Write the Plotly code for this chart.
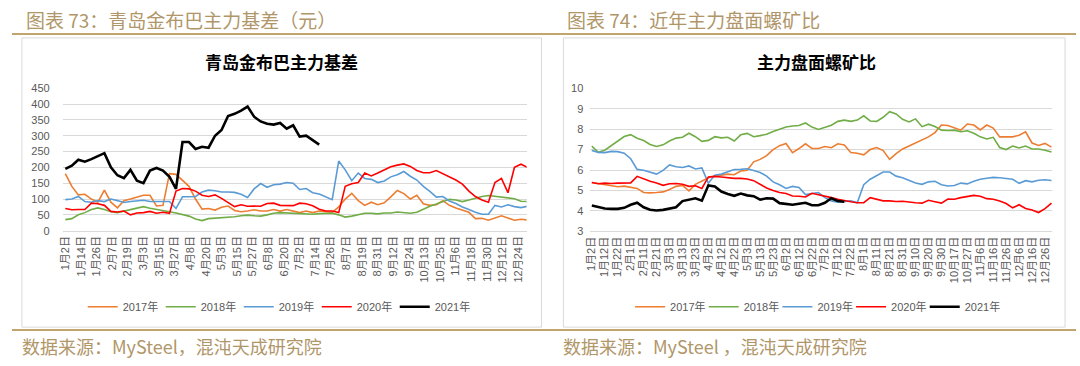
import plotly.graph_objects as go

# ---------------- data ----------------
STEP = 5  # samples every 5 trading-day categories

LEFT_TICKS = ["1月2日", "1月14日", "1月26日", "2月7日", "2月19日", "3月3日", "3月15日", "3月27日",
              "4月8日", "4月20日", "5月3日", "5月15日", "5月27日", "6月8日", "6月20日", "7月2日",
              "7月14日", "7月26日", "8月7日", "8月19日", "8月31日", "9月12日", "9月24日", "10月13日",
              "10月25日", "11月6日", "11月18日", "11月30日", "12月12日", "12月24日"]
RIGHT_TICKS = ["1月2日", "1月12日", "1月22日", "2月1日", "2月11日", "2月21日", "3月3日", "3月13日",
               "3月23日", "4月2日", "4月12日", "4月22日", "5月3日", "5月13日", "5月23日", "6月2日",
               "6月12日", "6月22日", "7月2日", "7月12日", "7月22日", "8月1日", "8月11日", "8月21日",
               "8月31日", "9月10日", "9月20日", "9月30日", "10月17日", "10月27日", "11月6日", "11月16日",
               "11月26日", "12月6日", "12月16日", "12月26日"]

YEARS = ["2017年", "2018年", "2019年", "2020年", "2021年"]
COLORS = ["#ED7D31", "#70AD47", "#5B9BD5", "#FF0000", "#000000"]

# 青岛金布巴主力基差 (元)
basis_2017 = [180, 140, 113, 115, 100, 90, 128, 90, 72, 95, 100, 105, 112, 112, 78, 80, 180, 178, 160, 140,
              100, 68, 70, 65, 74, 78, 64, 60, 62, 66, 62, 62, 67, 62, 67, 62, 57, 62, 57, 62,
              60, 58, 75, 100, 118, 95, 80, 90, 82, 88, 107, 127, 117, 100, 112, 85, 80, 82, 95, 80,
              72, 65, 58, 38, 39, 33, 40, 47, 40, 33, 36, 34]
basis_2018 = [35, 38, 50, 57, 67, 72, 67, 60, 57, 62, 67, 72, 76, 71, 68, 65, 60, 56, 51, 46,
              37, 32, 38, 39, 41, 42, 44, 47, 49, 47, 46, 50, 55, 57, 56, 55, 55, 54, 52, 54,
              55, 55, 50, 43, 46, 51, 55, 55, 53, 56, 56, 59, 57, 55, 58, 68, 77, 84, 91, 99,
              97, 92, 97, 103, 108, 111, 108, 106, 104, 101, 93, 92]
basis_2019 = [98, 100, 108, 92, 90, 95, 92, 100, 95, 89, 92, 95, 96, 92, 92, 92, 92, 70, 107, 107,
              108, 122, 128, 126, 122, 122, 121, 115, 105, 132, 149, 137, 145, 147, 152, 150, 130, 133, 120, 116,
              107, 98, 220, 192, 158, 182, 165, 162, 152, 157, 170, 177, 187, 172, 160, 140, 124, 106, 108, 94,
              86, 75, 67, 58, 52, 52, 80, 75, 82, 76, 73, 77]
basis_2020 = [70, 66, 67, 67, 87, 85, 80, 61, 59, 62, 50, 56, 57, 61, 55, 58, 55, 125, 133, 132,
              125, 112, 108, 113, 102, 88, 76, 82, 77, 78, 77, 86, 87, 80, 80, 79, 87, 85, 79, 68,
              62, 62, 57, 140, 148, 152, 182, 173, 182, 192, 202, 207, 211, 203, 190, 183, 183, 190, 180, 168,
              160, 147, 125, 108, 97, 90, 152, 165, 120, 200, 210, 200]
basis_2021 = [195, 205, 224, 218, 226, 236, 245, 200, 175, 166, 192, 158, 150, 190, 198, 190, 170, 132, 280, 280,
              258, 265, 262, 300, 318, 362, 369, 379, 392, 360, 345, 338, 335, 340, 322, 333, 297, 300, 285, 272]

# 主力盘面螺矿比
ratio_2017 = [5.39, 5.34, 5.30, 5.23, 5.18, 5.21, 5.15, 5.10, 4.90, 4.88, 4.90, 4.93, 5.05, 5.20, 5.25, 4.98, 5.30, 5.45, 5.62, 5.70,
              5.75, 5.80, 5.77, 5.95, 5.99, 6.40, 6.52, 6.70, 7.00, 7.19, 7.30, 6.85, 7.05, 7.28, 7.06, 7.05, 7.15, 7.09, 7.28, 7.22,
              6.86, 6.82, 6.74, 7.00, 7.10, 6.95, 6.52, 6.80, 7.03, 7.17, 7.30, 7.46, 7.62, 7.83, 8.20, 8.18, 8.05, 7.95, 8.25, 8.20,
              7.96, 8.20, 8.05, 7.62, 7.62, 7.62, 7.70, 7.87, 7.32, 7.20, 7.30, 7.12]
ratio_2018 = [7.17, 6.87, 6.97, 7.20, 7.40, 7.64, 7.73, 7.55, 7.44, 7.25, 7.15, 7.23, 7.42, 7.56, 7.60, 7.80, 7.63, 7.40, 7.45, 7.63,
              7.57, 7.60, 7.42, 7.72, 7.79, 7.63, 7.68, 7.75, 7.88, 8.00, 8.10, 8.15, 8.18, 8.30, 8.10, 7.98, 8.10, 8.19, 8.38, 8.44,
              8.38, 8.44, 8.65, 8.40, 8.38, 8.58, 8.85, 8.74, 8.48, 8.35, 8.50, 8.12, 8.24, 8.13, 7.95, 7.93, 7.95, 7.87, 7.92, 7.80,
              7.62, 7.52, 7.60, 7.10, 7.00, 7.17, 7.08, 7.17, 7.03, 7.03, 6.97, 6.88]
ratio_2019 = [6.96, 6.86, 6.85, 6.91, 6.90, 6.82, 6.55, 6.03, 5.99, 5.91, 5.80, 5.98, 6.25, 6.16, 6.12, 6.20, 6.05, 6.10, 5.35, 5.75,
              5.80, 5.91, 6.02, 6.03, 6.06, 5.98, 5.88, 5.70, 5.42, 5.28, 5.10, 5.20, 5.15, 4.80, 4.85, 4.90, 4.65, 4.49, 4.43, 4.45,
              4.49, 4.40, 5.28, 5.55, 5.72, 5.90, 5.90, 5.70, 5.62, 5.48, 5.36, 5.30, 5.42, 5.45, 5.28, 5.22, 5.24, 5.36, 5.32, 5.45,
              5.55, 5.60, 5.64, 5.62, 5.59, 5.55, 5.35, 5.48, 5.42, 5.50, 5.52, 5.49]
ratio_2020 = [5.39, 5.33, 5.36, 5.34, 5.36, 5.36, 5.37, 5.69, 5.55, 5.45, 5.36, 5.25, 5.33, 5.34, 5.30, 5.20, 5.23, 5.10, 5.66, 5.69,
              5.66, 5.62, 5.59, 5.59, 5.56, 5.48, 5.28, 5.12, 5.00, 4.90, 4.85, 4.73, 4.72, 4.68, 4.86, 4.80, 4.72, 4.65, 4.57, 4.50,
              4.45, 4.40, 4.40, 4.65, 4.58, 4.49, 4.49, 4.46, 4.47, 4.42, 4.40, 4.38, 4.52, 4.45, 4.38, 4.58, 4.57, 4.65, 4.72, 4.76,
              4.72, 4.60, 4.57, 4.49, 4.36, 4.15, 4.30, 4.12, 4.04, 3.92, 4.11, 4.38]
ratio_2021 = [4.26, 4.18, 4.12, 4.10, 4.10, 4.15, 4.30, 4.40, 4.18, 4.06, 4.02, 4.05, 4.10, 4.18, 4.48, 4.55, 4.62, 4.50, 5.25, 5.20,
              4.95, 4.83, 4.74, 4.85, 4.76, 4.72, 4.55, 4.62, 4.60, 4.38, 4.33, 4.30, 4.35, 4.40, 4.28, 4.28, 4.40, 4.62, 4.48, 4.45]

LEFT_SERIES = [basis_2017, basis_2018, basis_2019, basis_2020, basis_2021]
RIGHT_SERIES = [ratio_2017, ratio_2018, ratio_2019, ratio_2020, ratio_2021]

# ---------------- layout helpers ----------------
W, H = 1080, 366
def px(x):
    return x / W
def py(y):
    return 1 - y / H

GRID = "#D9D9D9"
TICKC = "#595959"
GOLD = "#C2A46F"
HEADC = "#B09669"
CJK = "Noto Sans CJK SC"
NUM = "Liberation Sans, Noto Sans CJK SC"

fig = go.Figure()

for i, (name, col) in enumerate(zip(YEARS, COLORS)):
    ys = LEFT_SERIES[i]
    fig.add_trace(go.Scatter(
        x=[k * STEP for k in range(len(ys))], y=ys, mode="lines", name=name,
        line=dict(color=col, width=2.6 if i == 4 else 1.6),
        xaxis="x", yaxis="y", legend="legend"))
for i, (name, col) in enumerate(zip(YEARS, COLORS)):
    ys = RIGHT_SERIES[i]
    fig.add_trace(go.Scatter(
        x=[k * STEP for k in range(len(ys))], y=ys, mode="lines", name=name,
        line=dict(color=col, width=2.6 if i == 4 else 1.6),
        xaxis="x2", yaxis="y2", legend=f"legend{i + 2}"))

xcommon = dict(showgrid=False, zeroline=False, showline=True, linecolor=GRID, linewidth=1,
               ticks="", tickangle=-90, tickfont=dict(family=NUM, size=11, color=TICKC))
ycommon = dict(showgrid=True, gridcolor=GRID, gridwidth=1, zeroline=False, showline=False,
               ticks="", tickfont=dict(family=NUM, size=11, color=TICKC))
legfont = dict(family=NUM, size=11, color=TICKC)

fig.update_layout(
    width=W, height=H, autosize=False,
    margin=dict(l=0, r=0, t=0, b=0),
    paper_bgcolor="white", plot_bgcolor="white",
    xaxis=dict(**xcommon, domain=[px(58), px(524)], range=[-2, 354.3], anchor="y",
               tickmode="array", tickvals=[12 * k for k in range(len(LEFT_TICKS))], ticktext=LEFT_TICKS),
    yaxis=dict(**ycommon, domain=[py(232.3), py(85)], range=[0, 450], dtick=50, anchor="x",
               ticklabelstandoff=12),
    xaxis2=dict(**xcommon, domain=[px(588), px(1052)], range=[-1.2, 355.5], anchor="y2",
                tickmode="array", tickvals=[10 * k for k in range(len(RIGHT_TICKS))], ticktext=RIGHT_TICKS),
    yaxis2=dict(**ycommon, domain=[py(233), py(85)], range=[3, 10], dtick=1, anchor="x2",
                ticklabelstandoff=6),
    legend=dict(orientation="h", x=px(274), xanchor="center", y=py(311), yanchor="middle",
                font=legfont, bgcolor="rgba(0,0,0,0)", entrywidth=33, entrywidthmode="pixels"),
    showlegend=True,
)
# one small legend per entry on the right panel, spaced like the reference
for k in range(5):
    fig.update_layout({f"legend{k + 2}": dict(orientation="h", x=px(628 + 74 * k), xanchor="left",
                                              y=py(311), yanchor="middle", font=legfont,
                                              bgcolor="rgba(0,0,0,0)")})

shapes = [
    dict(type="line", xref="paper", yref="paper", x0=px(7), x1=px(1076), y0=py(29), y1=py(29),
         line=dict(color=GOLD, width=2)),
    dict(type="line", xref="paper", yref="paper", x0=px(7), x1=px(1076), y0=py(335), y1=py(335),
         line=dict(color=GOLD, width=2)),
    dict(type="rect", xref="paper", yref="paper", x0=px(17), x1=px(539), y0=py(332), y1=py(33),
         line=dict(color=GRID, width=1)),
    dict(type="rect", xref="paper", yref="paper", x0=px(561), x1=px(1065), y0=py(332), y1=py(33),
         line=dict(color=GRID, width=1)),
]
fig.update_layout(shapes=shapes)

ann = [
    dict(text="图表 73：青岛金布巴主力基差（元）", x=px(19), y=py(14), xanchor="left", yanchor="middle",
         font=dict(family=CJK, size=19, color=HEADC)),
    dict(text="图表 74：近年主力盘面螺矿比", x=px(563), y=py(14), xanchor="left", yanchor="middle",
         font=dict(family=CJK, size=19, color=HEADC)),
    dict(text="数据来源：MySteel，混沌天成研究院", x=px(15), y=py(352), xanchor="left", yanchor="middle",
         font=dict(family=CJK, size=18, color=HEADC)),
    dict(text="数据来源：MySteel ，混沌天成研究院", x=px(559), y=py(352), xanchor="left", yanchor="middle",
         font=dict(family=CJK, size=18, color=HEADC)),
    dict(text="<b>青岛金布巴主力基差</b>", x=px(278), y=py(57), xanchor="center", yanchor="middle",
         font=dict(family=CJK, size=17, color="#000000")),
    dict(text="<b>主力盘面螺矿比</b>", x=px(815), y=py(57), xanchor="center", yanchor="middle",
         font=dict(family=CJK, size=17, color="#000000")),
]
for a in ann:
    a.update(xref="paper", yref="paper", showarrow=False)
fig.update_layout(annotations=ann)

fig.write_html("out.html", config={"displayModeBar": False},
               post_script="document.body.style.margin='0';document.body.style.overflow='hidden';")
